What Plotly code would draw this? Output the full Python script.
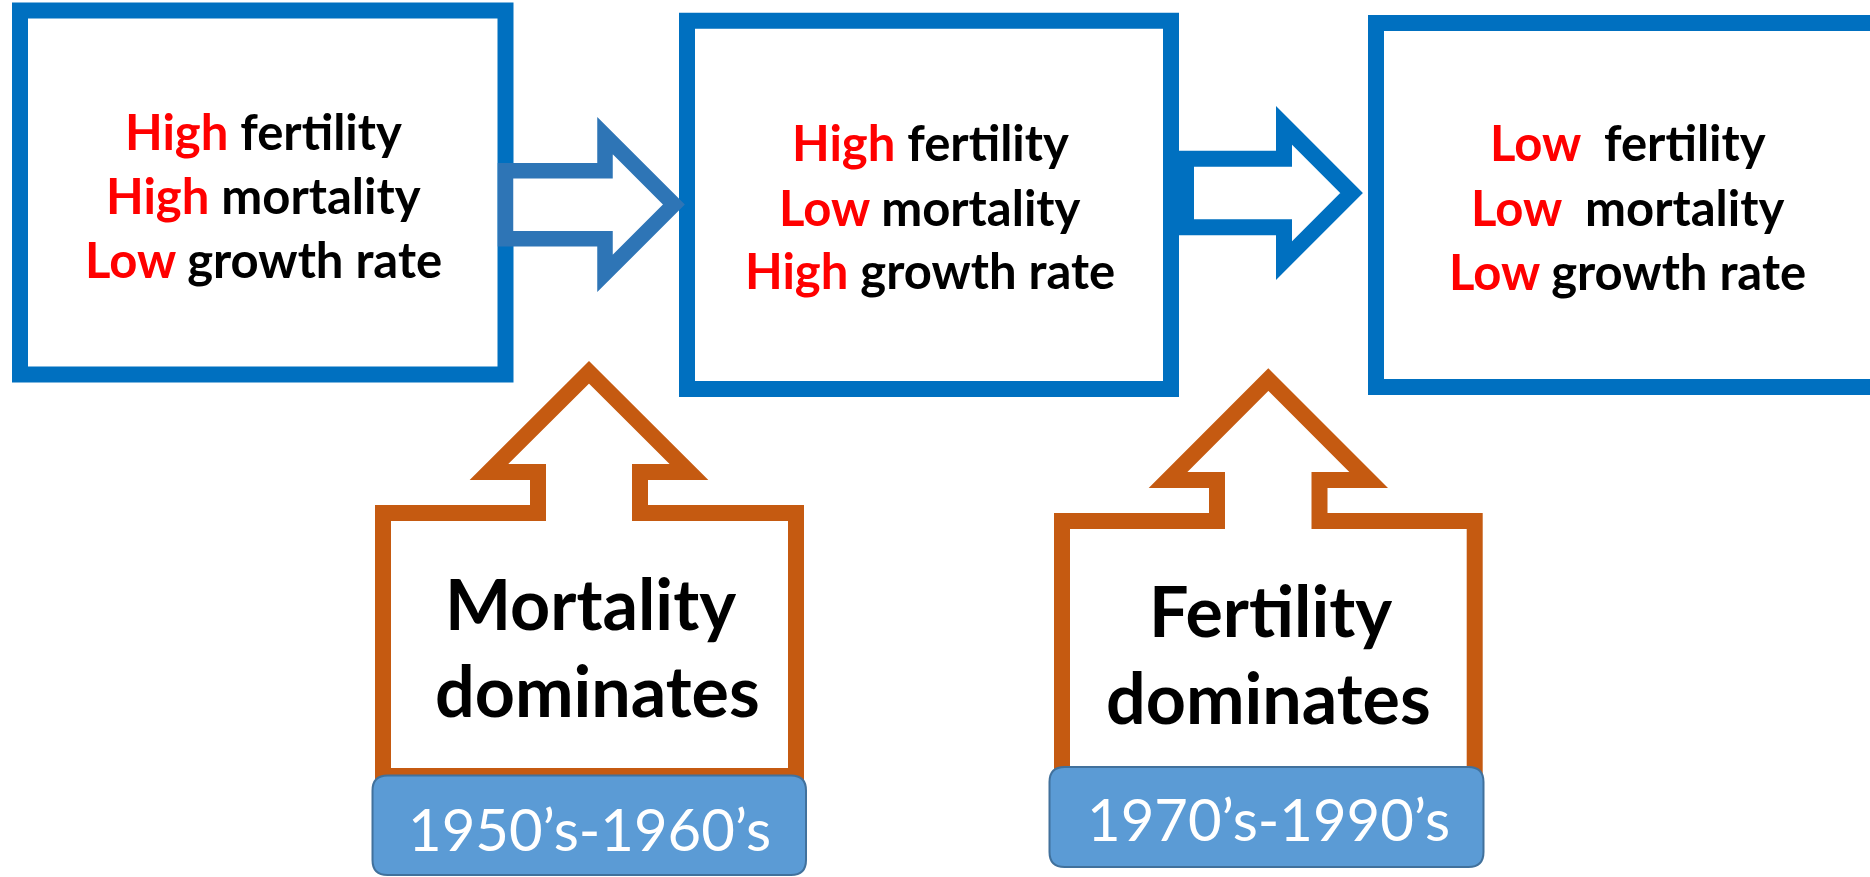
import plotly.graph_objects as go

# ---------------- content ----------------
stage_levels = [
    ["High", "High", "Low"],
    ["High", "Low", "High"],
    ["Low", "Low", "Low"],
]
stage_terms = [
    ["fertility", "mortality", "growth rate"],
    ["fertility", "mortality", "growth rate"],
    ["\u00a0fertility", "\u00a0mortality", "growth rate"],
]
driver_lines = [["Mortality", "dominates"], ["Fertility", "dominates"]]
period_labels = ["1950\u2019s-1960\u2019s", "1970\u2019s-1990\u2019s"]

# ---------------- geometry (pixel layout) ----------------
W, H = 1870, 877
BOX_BLUE = "#0070C0"
ARROW1_BLUE = "#2E75B6"
ORANGE = "#C55A11"
LABEL_FILL = "#5B9BD5"
LABEL_EDGE = "#41719C"

# stage boxes: (x0, y0, x1, y1) stroke-centre
stage_boxes = [(20, 10.4, 505.5, 374.5), (687, 20.7, 1171, 389), (1376, 23, 1882, 387)]
stage_text_x = [263.5, 930, 1627.5]
stage_text_y = [[131, 195, 259], [142, 207, 270], [142, 207, 271]]

fig = go.Figure()
fig.add_trace(go.Scatter(x=[0, W], y=[0, H], mode="markers",
                         marker=dict(opacity=0), hoverinfo="skip", showlegend=False))

shapes = []
for (x0, y0, x1, y1) in stage_boxes:
    shapes.append(dict(type="rect", xref="x", yref="y", x0=x0, y0=y0, x1=x1, y1=y1,
                       line=dict(color=BOX_BLUE, width=16), fillcolor="rgba(0,0,0,0)"))


def right_arrow(xl, sy0, sy1, bx, hy0, hy1, tx, ty):
    return (f"M{xl},{sy0} L{bx},{sy0} L{bx},{hy0} L{tx},{ty} L{bx},{hy1} "
            f"L{bx},{sy1} L{xl},{sy1} Z")


shapes.append(dict(type="path", xref="x", yref="y",
                   path=right_arrow(505.5, 170.8, 238.7, 605, 135.6, 273.4, 673.9, 204.5),
                   line=dict(color=ARROW1_BLUE, width=15.5), fillcolor="white"))
shapes.append(dict(type="path", xref="x", yref="y",
                   path=right_arrow(1186, 158.8, 227.3, 1284, 125.4, 260.6, 1351.6, 193),
                   line=dict(color=BOX_BLUE, width=16), fillcolor="white"))


def up_arrow(bl, br, bot, sh, sl, sr, hb, hl, hr, tx, ty):
    return (f"M{bl},{bot} L{bl},{sh} L{sl},{sh} L{sl},{hb} L{hl},{hb} L{tx},{ty} "
            f"L{hr},{hb} L{sr},{hb} L{sr},{sh} L{br},{sh} L{br},{bot} Z")


up_arrows = [
    (383, 796, 776, 513, 538, 640, 472, 489, 689, 589, 372.3),
    (1062, 1474.7, 776, 521, 1217, 1319.5, 480, 1168, 1368.7, 1268.3, 379.6),
]
for a in up_arrows:
    shapes.append(dict(type="path", xref="x", yref="y", path=up_arrow(*a),
                       line=dict(color=ORANGE, width=16), fillcolor="white"))


def rounded(x0, y0, x1, y1, r):
    return (f"M{x0+r},{y0} L{x1-r},{y0} Q{x1},{y0} {x1},{y0+r} L{x1},{y1-r} "
            f"Q{x1},{y1} {x1-r},{y1} L{x0+r},{y1} Q{x0},{y1} {x0},{y1-r} "
            f"L{x0},{y0+r} Q{x0},{y0} {x0+r},{y0} Z")


label_boxes = [(372.5, 775.5, 806, 875), (1049.5, 767, 1483.5, 867)]
for (x0, y0, x1, y1) in label_boxes:
    shapes.append(dict(type="path", xref="x", yref="y", path=rounded(x0, y0, x1, y1, 15),
                       line=dict(color=LABEL_EDGE, width=2), fillcolor=LABEL_FILL))

annotations = []
for i in range(3):
    for j in range(3):
        txt = (f"<span style='color:#FF0000'>{stage_levels[i][j]}</span> "
               f"{stage_terms[i][j]}")
        annotations.append(dict(x=stage_text_x[i], y=stage_text_y[i][j], xref="x", yref="y",
                                text=txt, showarrow=False, xanchor="center", yanchor="middle",
                                font=dict(family="Lato", size=49, color="black", weight=700)))

driver_x = [[590, 597], [1270, 1268.5]]
driver_y = [[602.5, 689.5], [609.5, 696.5]]
for i in range(2):
    for j in range(2):
        annotations.append(dict(x=driver_x[i][j], y=driver_y[i][j], xref="x", yref="y",
                                text=driver_lines[i][j], showarrow=False,
                                xanchor="center", yanchor="middle",
                                font=dict(family="Lato", size=70, color="black", weight=700)))

period_x = [589, 1268]
period_y = [828, 818.5]
for i in range(2):
    annotations.append(dict(x=period_x[i], y=period_y[i], xref="x", yref="y",
                            text=period_labels[i], showarrow=False,
                            xanchor="center", yanchor="middle",
                            font=dict(family="Lato", size=58, color="white")))

fig.update_layout(
    width=W, height=H, margin=dict(l=0, r=0, t=0, b=0),
    paper_bgcolor="white", plot_bgcolor="white",
    xaxis=dict(range=[0, W], visible=False, fixedrange=True),
    yaxis=dict(range=[H, 0], visible=False, fixedrange=True),
    shapes=shapes, annotations=annotations, showlegend=False,
)

fig.write_html("out.html", config={"displayModeBar": False},
               post_script="document.body.style.margin='0';")
